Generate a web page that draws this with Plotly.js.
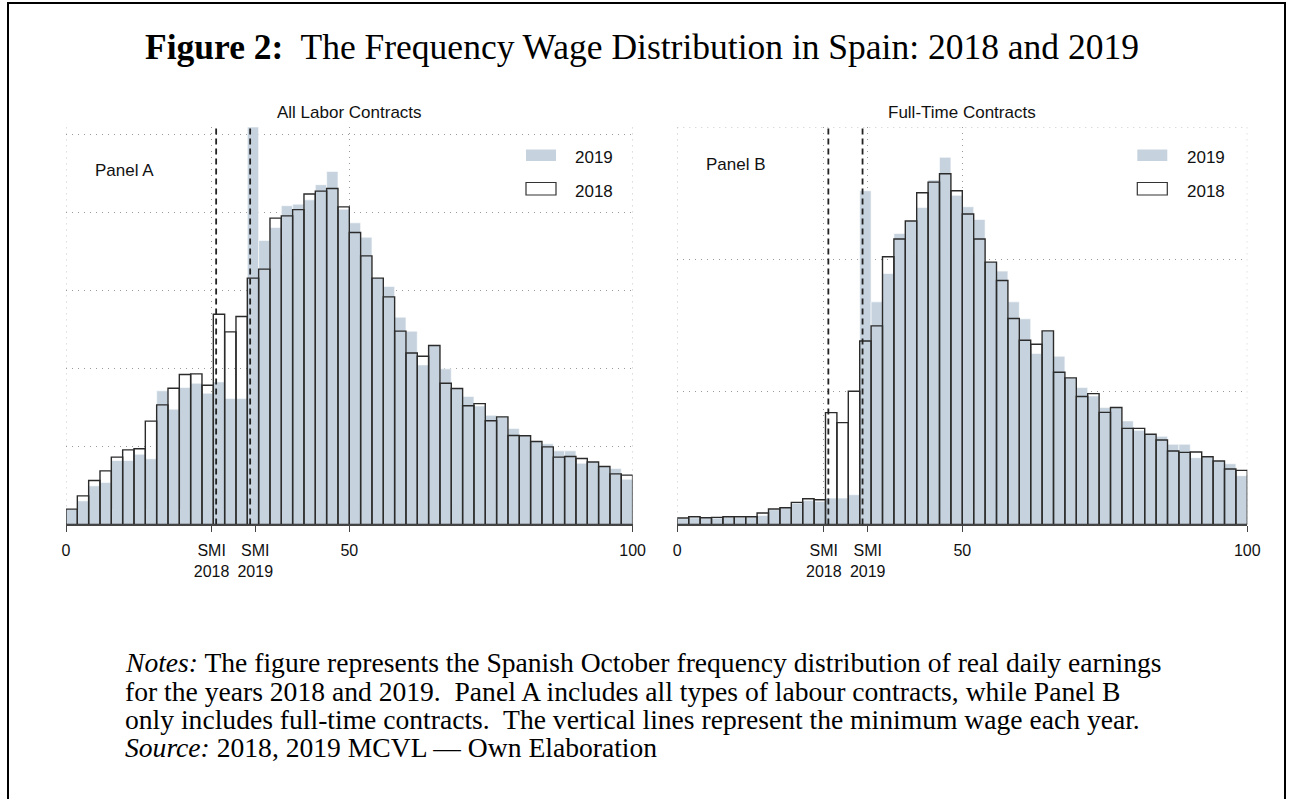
<!DOCTYPE html>
<html>
<head>
<meta charset="utf-8">
<script src="https://cdn.plot.ly/plotly-3.0.1.min.js"></script>
<style>html,body{margin:0;padding:0;background:#fff;}#chart{width:1290px;height:799px;}</style>
</head>
<body>
<div id="chart"></div>
<script>
// ---- data ----
const binCenters = [1,3,5,7,9,11,13,15,17,19,21,23,25,27,29,31,33,35,37,39,41,43,45,47,49,51,53,55,57,59,61,63,65,67,69,71,73,75,77,79,81,83,85,87,89,91,93,95,97,99];
const binWidth = 2;

const panelA_2019 = [0.196,0.302,0.495,0.538,0.82,0.82,0.90,0.842,1.714,1.479,1.757,1.812,1.684,1.829,1.615,1.615,5.10,3.644,3.81,4.09,4.11,4.165,4.36,4.53,4.046,3.87,3.686,3.16,3.053,2.66,2.48,2.047,2.296,1.996,1.744,1.642,1.52,1.40,1.38,1.23,1.137,1.064,1.034,0.944,0.944,0.785,0.80,0.743,0.717,0.58];
const panelA_2018 = [0.196,0.366,0.563,0.687,0.863,0.957,0.97,1.325,1.534,1.748,1.924,1.932,1.786,2.697,2.471,2.668,3.16,3.276,3.93,3.96,4.04,4.24,4.277,4.31,4.075,3.746,3.446,3.16,2.92,2.48,2.20,2.158,2.296,1.812,1.744,1.522,1.55,1.33,1.38,1.14,1.137,1.064,0.995,0.863,0.872,0.845,0.80,0.743,0.649,0.632];
const panelB_2019 = [0.043,0.05,0.048,0.048,0.055,0.053,0.055,0.068,0.111,0.126,0.161,0.181,0.174,0.199,0.199,0.224,2.519,1.68,1.894,2.196,2.29,2.393,2.60,2.771,2.484,2.398,2.302,1.98,1.912,1.68,1.552,1.29,1.461,1.27,1.106,1.033,0.97,0.882,0.882,0.781,0.71,0.68,0.665,0.605,0.605,0.504,0.511,0.479,0.458,0.368];
const panelB_2018 = [0.048,0.058,0.05,0.053,0.058,0.058,0.058,0.086,0.116,0.126,0.166,0.194,0.186,0.844,0.768,1.005,1.385,1.499,2.02,2.154,2.29,2.504,2.584,2.647,2.519,2.343,2.154,1.98,1.841,1.554,1.39,1.36,1.461,1.149,1.106,0.965,0.987,0.846,0.882,0.725,0.725,0.68,0.637,0.554,0.544,0.547,0.511,0.479,0.418,0.408];

const xTickVals = [0, 25.7, 33.4, 50, 100];
const xTickText = ["0", "SMI<br>2018", "SMI<br>2019", "50", "100"];
const smiLine2018 = 26.5;
const smiLine2019 = 32.5;
const yGridA = [1,2,3,4,5];
const yGridB = [1,2,3];
const yMaxA = 5.1;
const yMaxB = 3.0;

const panelTitles = ["All Labor Contracts", "Full-Time Contracts"];
const panelLabels = ["Panel A", "Panel B"];
const seriesNames = ["2019", "2018"];
const figTitle = "<b>Figure 2:</b>  The Frequency Wage Distribution in Spain: 2018 and 2019";
const noteLines = [
  "<i>Notes:</i> The figure represents the Spanish October frequency distribution of real daily earnings",
  "for the years 2018 and 2019.  Panel A includes all types of labour contracts, while Panel B",
  "only includes full-time contracts.  The vertical lines represent the minimum wage each year.",
  "<i>Source:</i> 2018, 2019 MCVL — Own Elaboration"
];

// ---- style ----
const W = 1290, H = 799;
const px = x => x / W;
const py = y => 1 - y / H;
const fill19 = '#c6d3de';
const edge18 = '#2b2b2b';
const gridCol = '#9a9a9a';
const gridDash = '1px,5px';
const sans = 'Liberation Sans Narrow, Arial Narrow, Liberation Sans, Arial, sans-serif';
const serif = 'Liberation Serif, Times New Roman, serif';

function barPair(y19, y18, xa, ya) {
  return [
    {type:'bar', x: binCenters, y: y19, width: binWidth, xaxis: xa, yaxis: ya,
     marker:{color: fill19, line:{color:'#ffffff', width:0.6}}, name: seriesNames[0],
     showlegend:false, hoverinfo:'skip'},
    {type:'bar', x: binCenters, y: y18, width: binWidth, xaxis: xa, yaxis: ya,
     marker:{color:'rgba(0,0,0,0)', line:{color: edge18, width:1.4}}, name: seriesNames[1],
     showlegend:false, hoverinfo:'skip'}
  ];
}

const data = [
  ...barPair(panelA_2019, panelA_2018, 'x', 'y'),
  ...barPair(panelB_2019, panelB_2018, 'x2', 'y2')
];

const plotTop = 127, plotBot = 524.4;
const domA = [px(66), px(632.6)];
const domB = [px(677.3), px(1247.3)];
const domY = [py(plotBot), py(plotTop)];

function xAxis(dom, anchor) {
  return {domain: dom, anchor: anchor, range:[0,100], tickmode:'array', tickvals:xTickVals, ticktext:xTickText,
    ticks:'outside', ticklen:6, tickwidth:1, tickcolor:'#444', showline:true, linecolor:'#444', linewidth:1.2,
    showgrid:true, gridcolor:gridCol, griddash:gridDash, gridwidth:1, zeroline:false,
    tickfont:{family:sans, size:16, color:'#111'}, ticklabelstandoff:5, fixedrange:true};
}
function yAxis(dom, anchor, maxv, grid) {
  return {domain: dom, anchor: anchor, range:[0,maxv], tickmode:'array', tickvals:grid,
    showticklabels:false, ticks:'', showline:false, showgrid:true, gridcolor:gridCol,
    griddash:gridDash, gridwidth:1, zeroline:false, fixedrange:true};
}

const shapes = [];
// dotted plot-region edges (grid lines at the range ends)
[['x','y'],['x2','y2']].forEach(([xa,ya]) => {
  [0, 100].forEach(v => {
    shapes.push({type:'line', xref:xa, yref:ya + ' domain', x0:v, x1:v, y0:0, y1:1, layer:'below',
      line:{color:gridCol, width:1, dash:gridDash}});
  });
});
shapes.push({type:'line', xref:'x2', yref:'y2', x0:0, x1:100, y0:yMaxB, y1:yMaxB, layer:'below',
  line:{color:gridCol, width:1, dash:gridDash}});
// SMI dashed lines
[['x','y',yMaxA],['x2','y2',yMaxB]].forEach(([xa,ya,m]) => {
  [smiLine2018, smiLine2019].forEach(v => {
    shapes.push({type:'line', xref:xa, yref:ya, x0:v, x1:v, y0:0, y1:m, layer:'above',
      line:{color:'#222', width:1.8, dash:'6px,4px'}});
  });
});
// legends
[526, 1137.3].forEach(lx => {
  shapes.push({type:'rect', xref:'paper', yref:'paper', x0:px(lx), x1:px(lx+30), y0:py(161), y1:py(149.5),
    fillcolor: fill19, line:{width:0}});
  shapes.push({type:'rect', xref:'paper', yref:'paper', x0:px(lx), x1:px(lx+30), y0:py(195), y1:py(182.5),
    fillcolor:'#fff', line:{color:'#333', width:1.2}});
});
// outer frame
shapes.push({type:'rect', xref:'paper', yref:'paper', x0:px(8), x1:px(1285), y0:-0.02, y1:py(3),
  line:{color:'#000', width:2}, fillcolor:'rgba(0,0,0,0)'});

const annotations = [];
annotations.push({xref:'paper', yref:'paper', x:px(642), y:py(47), text:figTitle, showarrow:false,
  xanchor:'center', yanchor:'middle', font:{family:serif, size:35.5, color:'#000'}});
annotations.push({xref:'paper', yref:'paper', x:px(349.5), y:py(112), text:panelTitles[0], showarrow:false,
  xanchor:'center', yanchor:'middle', font:{family:sans, size:17, color:'#111'}});
annotations.push({xref:'paper', yref:'paper', x:px(962), y:py(112), text:panelTitles[1], showarrow:false,
  xanchor:'center', yanchor:'middle', font:{family:sans, size:17, color:'#111'}});
annotations.push({xref:'paper', yref:'paper', x:px(93), y:py(170.5), text:panelLabels[0], showarrow:false,
  xanchor:'left', yanchor:'middle', font:{family:sans, size:17, color:'#111'}});
annotations.push({xref:'paper', yref:'paper', x:px(704), y:py(164.5), text:panelLabels[1], showarrow:false,
  xanchor:'left', yanchor:'middle', font:{family:sans, size:17, color:'#111'}});
[573, 1185].forEach(tx => {
  annotations.push({xref:'paper', yref:'paper', x:px(tx), y:py(158), text:seriesNames[0], showarrow:false,
    xanchor:'left', yanchor:'middle', font:{family:sans, size:17, color:'#111'}});
  annotations.push({xref:'paper', yref:'paper', x:px(tx), y:py(191.5), text:seriesNames[1], showarrow:false,
    xanchor:'left', yanchor:'middle', font:{family:sans, size:17, color:'#111'}});
});
const noteY = [662, 691, 719, 747];
noteLines.forEach((t, i) => {
  annotations.push({xref:'paper', yref:'paper', x:px(123), y:py(noteY[i]), text:t, showarrow:false,
    xanchor:'left', yanchor:'middle', font:{family:serif, size:27.6, color:'#000'}});
});

const layout = {
  width: W, height: H, margin:{l:0, r:0, t:0, b:0}, paper_bgcolor:'#fff', plot_bgcolor:'rgba(0,0,0,0)',
  barmode:'overlay', bargap:0, showlegend:false,
  xaxis: xAxis(domA, 'y'), yaxis: yAxis(domY, 'x', yMaxA, yGridA),
  xaxis2: xAxis(domB, 'y2'), yaxis2: yAxis(domY, 'x2', yMaxB, yGridB),
  shapes: shapes, annotations: annotations
};

Plotly.newPlot('chart', data, layout, {displayModeBar:false, staticPlot:true});
</script>
</body>
</html>
